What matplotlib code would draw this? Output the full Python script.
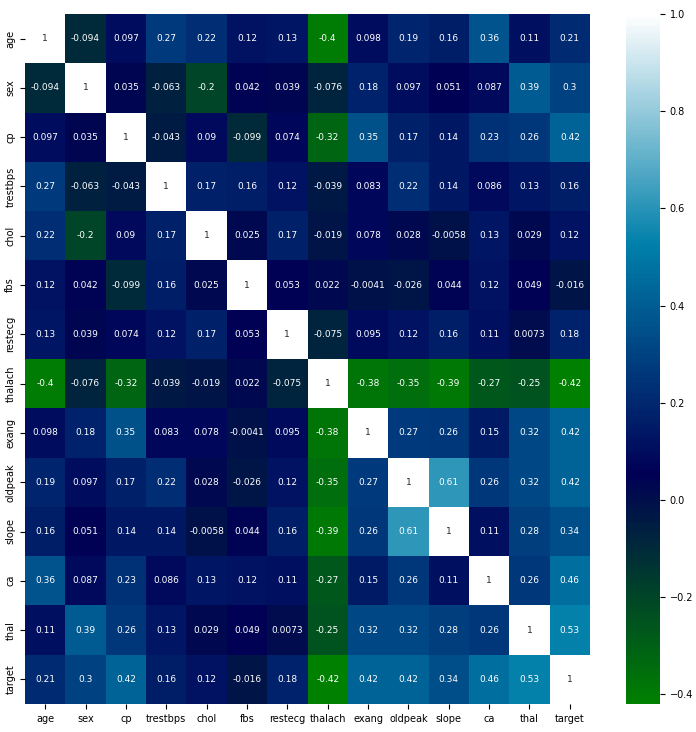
import numpy as np
import pandas as pd
import matplotlib
matplotlib.use("Agg")
import matplotlib.pyplot as plt
import seaborn as sns

# 變數名稱
labels = ['age', 'sex', 'cp', 'trestbps', 'chol', 'fbs', 'restecg',
          'thalach', 'exang', 'oldpeak', 'slope', 'ca', 'thal', 'target']

# 相關係數矩陣 (每列一個變數)
age      = [1, -0.094, 0.097, 0.27, 0.22, 0.12, 0.13, -0.4, 0.098, 0.19, 0.16, 0.36, 0.11, 0.21]
sex      = [-0.094, 1, 0.035, -0.063, -0.2, 0.042, 0.039, -0.076, 0.18, 0.097, 0.051, 0.087, 0.39, 0.3]
cp       = [0.097, 0.035, 1, -0.043, 0.09, -0.099, 0.074, -0.32, 0.35, 0.17, 0.14, 0.23, 0.26, 0.42]
trestbps = [0.27, -0.063, -0.043, 1, 0.17, 0.16, 0.12, -0.039, 0.083, 0.22, 0.14, 0.086, 0.13, 0.16]
chol     = [0.22, -0.2, 0.09, 0.17, 1, 0.025, 0.17, -0.019, 0.078, 0.028, -0.0058, 0.13, 0.029, 0.12]
fbs      = [0.12, 0.042, -0.099, 0.16, 0.025, 1, 0.053, 0.022, -0.0041, -0.026, 0.044, 0.12, 0.049, -0.016]
restecg  = [0.13, 0.039, 0.074, 0.12, 0.17, 0.053, 1, -0.075, 0.095, 0.12, 0.16, 0.11, 0.0073, 0.18]
thalach  = [-0.4, -0.076, -0.32, -0.039, -0.019, 0.022, -0.075, 1, -0.38, -0.35, -0.39, -0.27, -0.25, -0.42]
exang    = [0.098, 0.18, 0.35, 0.083, 0.078, -0.0041, 0.095, -0.38, 1, 0.27, 0.26, 0.15, 0.32, 0.42]
oldpeak  = [0.19, 0.097, 0.17, 0.22, 0.028, -0.026, 0.12, -0.35, 0.27, 1, 0.61, 0.26, 0.32, 0.42]
slope    = [0.16, 0.051, 0.14, 0.14, -0.0058, 0.044, 0.16, -0.39, 0.26, 0.61, 1, 0.11, 0.28, 0.34]
ca       = [0.36, 0.087, 0.23, 0.086, 0.13, 0.12, 0.11, -0.27, 0.15, 0.26, 0.11, 1, 0.26, 0.46]
thal     = [0.11, 0.39, 0.26, 0.13, 0.029, 0.049, 0.0073, -0.25, 0.32, 0.32, 0.28, 0.26, 1, 0.53]
target   = [0.21, 0.3, 0.42, 0.16, 0.12, -0.016, 0.18, -0.42, 0.42, 0.42, 0.34, 0.46, 0.53, 1]

corr = pd.DataFrame([age, sex, cp, trestbps, chol, fbs, restecg, thalach,
                     exang, oldpeak, slope, ca, thal, target],
                    index=labels, columns=labels)

fig = plt.figure(figsize=(6.96, 7.32), dpi=100)
ax = fig.add_axes([25/696, 28/732, 565/696, 690/732])
cax = fig.add_axes([626/696, 28/732, 34/696, 690/732])

sns.heatmap(corr, annot=True, cmap='ocean', ax=ax, cbar_ax=cax,
            annot_kws={'fontsize': 6.5})

ax.set_xticklabels(labels, rotation=0, fontsize=7)
ax.set_yticklabels(labels, rotation=90, fontsize=7, va='center')
cax.tick_params(labelsize=7)

plt.savefig('out.png', dpi=100)
